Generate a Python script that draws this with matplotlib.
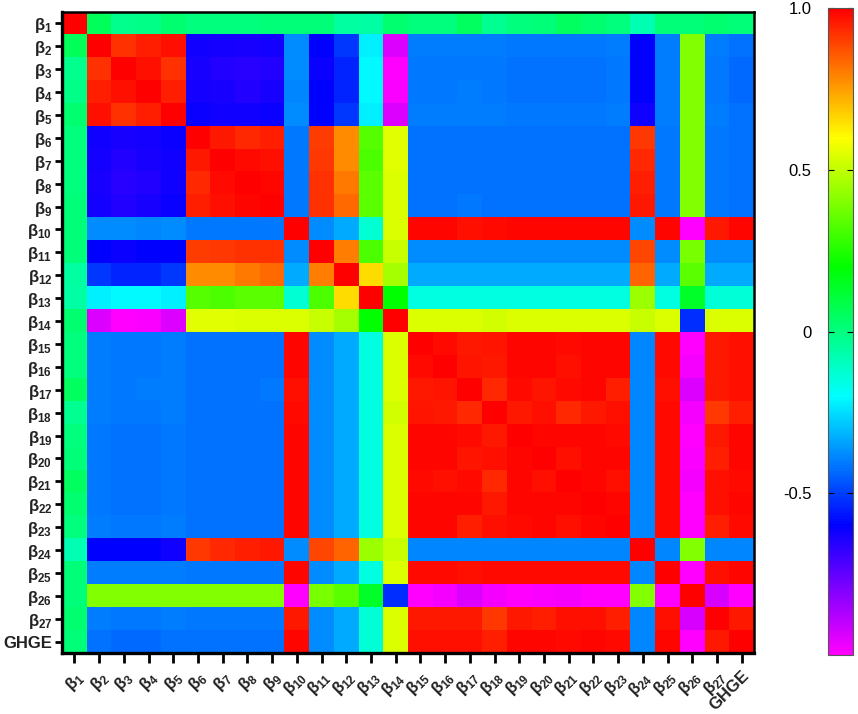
import numpy as np
import matplotlib
matplotlib.use("Agg")
import matplotlib.pyplot as plt
from matplotlib.colors import LinearSegmentedColormap

plt.rcParams["font.family"] = ["Liberation Sans", "DejaVu Sans"]
plt.rcParams["mathtext.fontset"] = "custom"
plt.rcParams["mathtext.rm"] = "Liberation Sans"
plt.rcParams["mathtext.it"] = "Liberation Sans:italic"
plt.rcParams["mathtext.bf"] = "Liberation Sans:bold"

# ---- data -------------------------------------------------------------
names = ["β1", "β2", "β3", "β4", "β5", "β6", "β7", "β8", "β9", "β10",
         "β11", "β12", "β13", "β14", "β15", "β16", "β17", "β18", "β19",
         "β20", "β21", "β22", "β23", "β24", "β25", "β26", "β27", "GHGE"]

# lower triangle of the (symmetric) correlation matrix, row by row
corr_lower = [
    [1.00],
    [0.06, 1.00],
    [-0.02, 0.92, 1.00],
    [-0.01, 0.95, 0.97, 1.00],
    [0.03, 0.97, 0.92, 0.95, 1.00],
    [0.00, -0.62, -0.64, -0.63, -0.61, 1.00],
    [0.00, -0.63, -0.65, -0.64, -0.62, 0.96, 1.00],
    [0.00, -0.64, -0.66, -0.65, -0.62, 0.93, 0.98, 1.00],
    [0.01, -0.63, -0.65, -0.64, -0.61, 0.95, 0.97, 0.985, 1.00],
    [0.01, -0.38, -0.38, -0.39, -0.38, -0.41, -0.41, -0.41, -0.41, 1.00],
    [0.01, -0.60, -0.61, -0.60, -0.60, 0.90, 0.91, 0.92, 0.92, -0.38, 1.00],
    [-0.05, -0.51, -0.54, -0.54, -0.51, 0.78, 0.78, 0.81, 0.83, -0.33, 0.80, 1.00],
    [-0.06, -0.22, -0.21, -0.21, -0.22, 0.33, 0.32, 0.34, 0.34, -0.13, 0.32, 0.65, 1.00],
    [0.03, -0.94, -1.00, -0.99, -0.94, 0.55, 0.55, 0.54, 0.54, 0.54, 0.51, 0.46, 0.20, 1.00],
    # beta15
    [0.00, -0.40, -0.41, -0.41, -0.40, -0.42, -0.42, -0.42, -0.42, 0.985, -0.38, -0.33, -0.15, 0.54,
     1.00],
    # beta16
    [0.00, -0.40, -0.41, -0.41, -0.40, -0.42, -0.42, -0.42, -0.42, 0.985, -0.38, -0.33, -0.15, 0.54,
     0.98, 1.00],
    # beta17
    [0.05, -0.40, -0.41, -0.40, -0.40, -0.42, -0.42, -0.42, -0.41, 0.97, -0.38, -0.33, -0.15, 0.54,
     0.96, 0.965, 1.00],
    # beta18
    [-0.03, -0.40, -0.41, -0.41, -0.40, -0.42, -0.42, -0.42, -0.42, 0.98, -0.38, -0.33, -0.15, 0.53,
     0.965, 0.96, 0.93, 1.00],
    # beta19
    [0.00, -0.41, -0.42, -0.42, -0.41, -0.42, -0.42, -0.42, -0.42, 0.985, -0.38, -0.33, -0.15, 0.54,
     0.985, 0.985, 0.98, 0.96, 1.00],
    # beta20
    [0.01, -0.41, -0.42, -0.42, -0.41, -0.42, -0.42, -0.42, -0.42, 0.99, -0.38, -0.33, -0.15, 0.54,
     0.985, 0.985, 0.965, 0.975, 0.99, 1.00],
    # beta21
    [0.05, -0.41, -0.42, -0.42, -0.41, -0.42, -0.42, -0.42, -0.42, 0.985, -0.38, -0.33, -0.15, 0.54,
     0.98, 0.975, 0.98, 0.935, 0.985, 0.975, 1.00],
    # beta22
    [0.03, -0.41, -0.42, -0.42, -0.41, -0.42, -0.42, -0.42, -0.42, 0.99, -0.38, -0.33, -0.15, 0.54,
     0.99, 0.985, 0.985, 0.955, 0.985, 0.985, 0.99, 1.00],
    # beta23
    [0.00, -0.40, -0.41, -0.41, -0.40, -0.42, -0.42, -0.42, -0.42, 0.985, -0.38, -0.33, -0.15, 0.54,
     0.99, 0.985, 0.95, 0.97, 0.98, 0.985, 0.975, 0.985, 1.00],
    # beta24
    [-0.08, -0.60, -0.60, -0.60, -0.62, 0.91, 0.93, 0.95, 0.96, -0.38, 0.89, 0.84, 0.44, 0.51,
     -0.39, -0.39, -0.39, -0.39, -0.39, -0.39, -0.39, -0.39, -0.39, 1.00],
    # beta25
    [0.01, -0.40, -0.40, -0.40, -0.40, -0.41, -0.41, -0.41, -0.41, 0.985, -0.38, -0.33, -0.15, 0.54,
     0.98, 0.98, 0.975, 0.98, 0.98, 0.98, 0.98, 0.98, 0.98, -0.39, 1.00],
    # beta26
    [0.01, 0.40, 0.40, 0.40, 0.40, 0.40, 0.40, 0.40, 0.40, -1.00, 0.39, 0.34, 0.14, -0.53,
     -1.00, -0.98, -0.94, -0.98, -1.00, -0.99, -0.98, -1.00, -1.00, 0.40, -1.00, 1.00],
    # beta27
    [0.03, -0.40, -0.41, -0.41, -0.40, -0.41, -0.41, -0.41, -0.41, 0.96, -0.38, -0.33, -0.14, 0.54,
     0.96, 0.96, 0.96, 0.91, 0.96, 0.95, 0.975, 0.975, 0.95, -0.39, 0.975, -0.93, 1.00],
    # GHGE
    [0.01, -0.42, -0.43, -0.43, -0.42, -0.42, -0.42, -0.42, -0.42, 0.985, -0.38, -0.33, -0.14, 0.54,
     0.97, 0.97, 0.97, 0.95, 0.985, 0.985, 0.98, 0.985, 0.98, -0.39, 0.985, -1.00, 0.96, 1.00],
]

cbar_ticks = [1.0, 0.5, 0.0, -0.5]
cbar_ticklabels = ["1.0", "0.5", "0", "-0.5"]

# ---- build matrix --------------------------------------------------------
n = len(names)
M = np.zeros((n, n))
for i, row in enumerate(corr_lower):
    for j, v in enumerate(row):
        M[i, j] = v
        M[j, i] = v


def fmt(name):
    if name.startswith("β"):
        return "β$_{\\mathregular{%s}}$" % name[1:]
    return name


disp = [fmt(s) for s in names]

cmap = LinearSegmentedColormap.from_list(
    "rainbowcorr",
    [(0.0, "#ff00ff"), (0.2, "#0000ff"), (0.4, "#00ffff"),
     (0.6, "#00ff00"), (0.8, "#ffff00"), (1.0, "#ff0000")])

fig = plt.figure(figsize=(8.58, 7.14), dpi=100)
ax = fig.add_axes([0.0723, 0.0854, 0.8065, 0.8978])
im = ax.imshow(M, cmap=cmap, vmin=-1, vmax=1, aspect="auto",
               interpolation="nearest")

ax.set_xticks(np.arange(n))
ax.set_yticks(np.arange(n))
ax.set_yticklabels(disp, fontsize=12, fontweight="bold", color="#222222")
ax.set_xticklabels(disp, fontsize=12, fontweight="bold", color="#222222",
                   rotation=45, ha="right", va="top", rotation_mode="anchor")
ax.tick_params(axis="y", length=5, width=2.0, pad=2)
ax.tick_params(axis="x", length=7, width=2.0, pad=4)
for side, sp in ax.spines.items():
    sp.set_linewidth(2.4 if side in ("left", "bottom") else 1.8)
    sp.set_color("black")

cax = fig.add_axes([0.965, 0.0826, 0.0291, 0.9062])
cb = fig.colorbar(im, cax=cax)
cb.set_ticks(cbar_ticks)
cb.set_ticklabels(cbar_ticklabels)
cb.outline.set_linewidth(0.8)
cb.outline.set_edgecolor("#555555")
cax.yaxis.set_ticks_position("both")
cax.tick_params(axis="y", direction="in", length=4, width=0.8,
                labelleft=True, labelright=False, labelsize=12, pad=12)

fig.savefig("out.png", dpi=100)
